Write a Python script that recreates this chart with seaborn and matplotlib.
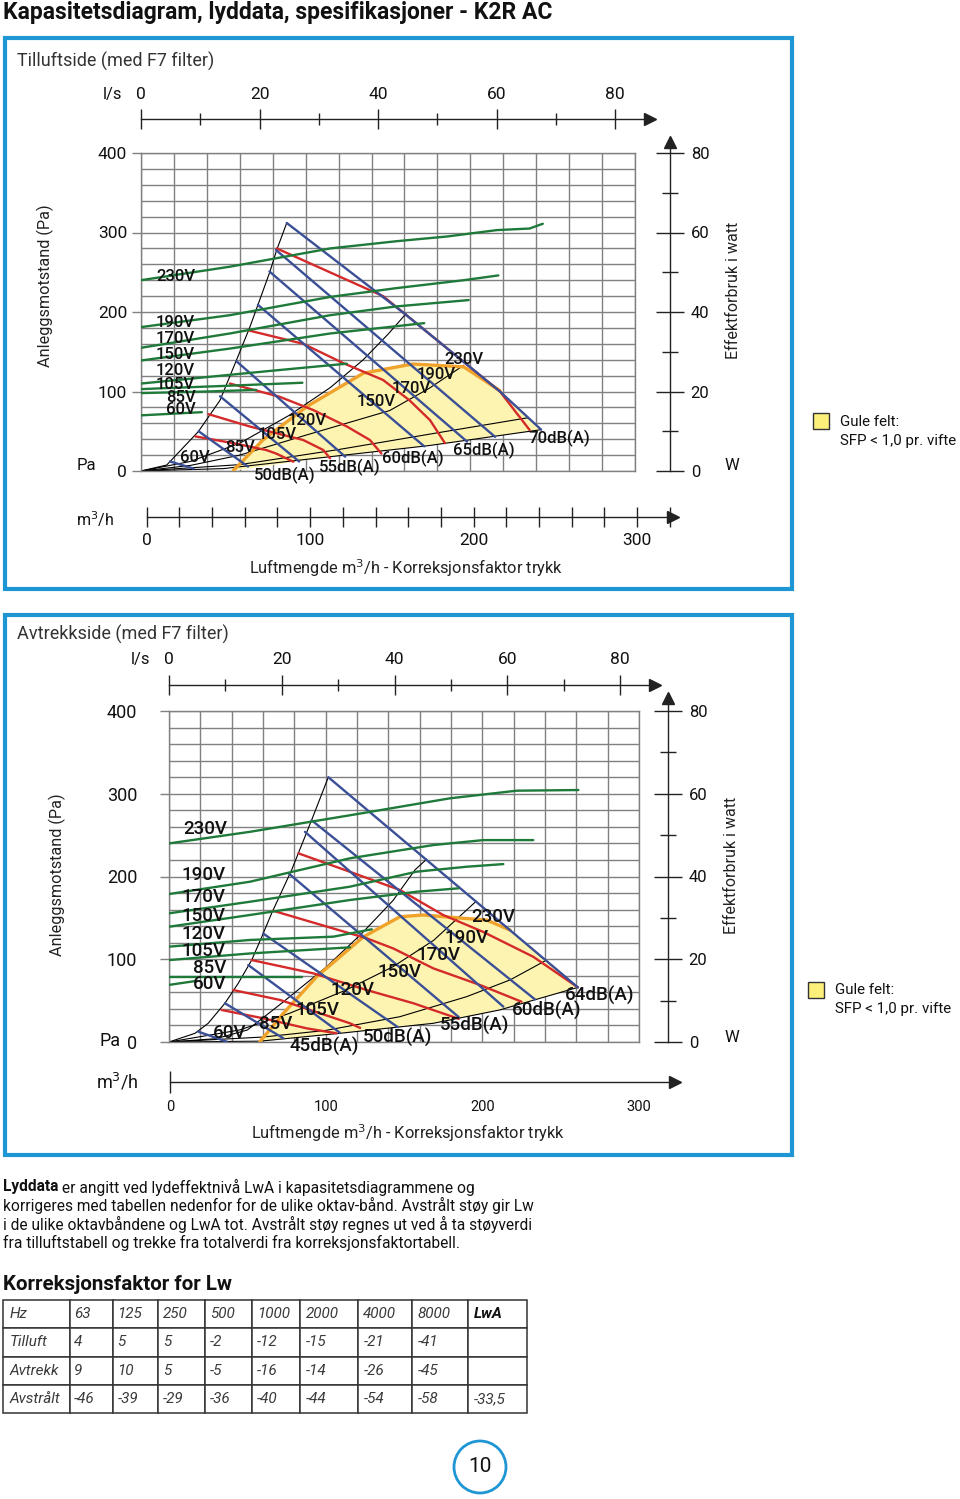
import matplotlib
matplotlib.use("Agg")
import matplotlib.pyplot as plt
from matplotlib.patches import Rectangle, Circle
import pandas as pd
import seaborn as sns

# ------------------------------------------------------------------
# data (airflow m3/h, pressure Pa)
# ------------------------------------------------------------------

# Tilluftside
sup_green = {
    "230V": [(0, 240), (54, 257), (115, 280), (155, 289), (186, 295), (216, 303), (236, 305), (244, 311)],
    "190V": [(0, 181), (54, 196), (115, 219), (155, 230), (196, 240), (217, 246)],
    "170V": [(0, 155), (54, 173), (115, 196), (155, 207), (199, 215)],
    "150V": [(0, 139), (54, 154), (115, 173), (172, 186)],
    "120V": [(0, 110), (54, 121), (84, 127), (125, 135)],
    "105V": [(0, 103), (50, 107), (98, 111)],
    "85V": [(0, 98), (40, 100), (70, 102)],
    "60V": [(0, 70), (37, 74)],
}
sup_blue = {
    "230V": [(88.5, 312), (160, 198), (218, 100), (243, 52)],
    "190V": [(82, 278), (215, 43)],
    "170V": [(78, 251), (198, 37)],
    "150V": [(71, 209), (172, 31)],
    "120V": [(58, 138), (124, 18)],
    "105V": [(48, 94), (96, 12)],
    "85V": [(35, 50), (65, 5.5)],
    "60V": [(17.6, 12), (32, 3)],
}
sup_red = {
    "50dB(A)": [(33, 43.5), (56, 35), (76, 26.4), (82, 22), (92.5, 11.7)],
    "55dB(A)": [(41, 71.5), (66, 56), (98.5, 39), (110.7, 26.4), (114.8, 16)],
    "60dB(A)": [(54, 110), (84, 93.5), (104.6, 76.7), (125, 56), (139, 39), (146, 22)],
    "65dB(A)": [(65, 177), (98.5, 160), (123, 135.5), (147, 114.5), (163, 89), (175.5, 64), (184.6, 35)],
    "70dB(A)": [(82.4, 280), (147, 220), (160, 198), (218, 100), (236, 51.6)],
}
sup_limit_left = [(0, 0), (15.6, 7.5), (34.8, 49.5), (48, 89), (58, 139.6), (66.2, 181.5),
                  (78.3, 250.7), (82.4, 278), (88.5, 312)]
sup_limit_bottom = [(0, 0), (50, 3), (115, 18), (175, 32), (243, 52)]
sup_system = [
    [(0, 0), (30, 12), (60, 35), (90, 70), (115, 105), (135, 140), (150, 172), (161, 198)],
    [(0, 0), (30, 7), (60, 20), (100, 45), (151, 76), (175, 104), (196, 133)],
    [(0, 0), (60, 8), (120, 27), (180, 48), (235, 67)],
]
sup_sfp = [(56, 0.4), (74, 39), (100.6, 81), (135, 123), (165, 134.6), (196, 131), (218, 101)]

# Avtrekkside
exh_green = {
    "230V": [(0, 240), (51.7, 254), (115.5, 274), (179.4, 294.5), (222, 303.7), (261.3, 304.5)],
    "190V": [(0, 178.8), (51.7, 193.7), (115.5, 222), (168.7, 238), (200.6, 244), (232.5, 244)],
    "170V": [(0, 155.5), (51.7, 169.5), (115.5, 187.7), (158, 205.8), (190, 211.8), (213.4, 215)],
    "150V": [(0, 139.3), (51.7, 153.5), (115.5, 171.6), (158, 181.6), (184.7, 185.7)],
    "120V": [(0, 115.2), (51.7, 123.3), (104.9, 127.3), (129.4, 136.2)],
    "105V": [(0, 99), (51.7, 107), (115.5, 114.4)],
    "85V": [(0, 79), (84.7, 79)],
    "60V": [(0, 69), (18, 74)],
}
exh_blue = {
    "230V": [(101.7, 320), (261, 66)],
    "190V": [(91, 268), (233.6, 51.5)],
    "170V": [(86.8, 254), (213.4, 42.7)],
    "150V": [(76.2, 204), (185, 30)],
    "120V": [(60.2, 131), (146, 18)],
    "105V": [(50.6, 93), (109, 11.3)],
    "85V": [(35.7, 46.8), (73, 4.5)],
    "60V": [(18.7, 12.5), (36.8, 0.5)],
}
exh_red = {
    "45dB(A)": [(33.6, 38.7), (60.2, 28.6), (87.9, 16.5), (107, 10.5)],
    "50dB(A)": [(41, 62.8), (70.9, 50.8), (96.4, 34.7), (115.5, 22.6), (122, 17)],
    "55dB(A)": [(52.8, 99), (92, 83), (126.2, 62.8), (156, 46.8), (185, 28)],
    "60dB(A)": [(66.6, 158.5), (126.2, 125.3), (143.2, 113), (168.7, 89), (198.5, 68.9), (225, 48.7)],
    "64dB(A)": [(82.6, 228), (115, 206), (147.4, 183.7), (175, 153.5), (200.6, 133), (232.5, 103), (261, 66)],
}
exh_limit_left = [(0, 0), (16.6, 10.5), (25, 22.6), (35.7, 46.8), (44.2, 71), (52.8, 99), (59.2, 127),
                  (65.5, 155.5), (78.3, 208), (91, 268), (101.7, 320)]
exh_limit_bottom = [(0, 0), (58, 1), (109, 10.5), (168.7, 22.6), (211, 38.7), (261, 66)]
exh_system = [
    [(0, 0), (30, 4), (50, 14.5), (72, 47), (100, 90), (123, 131), (143, 171), (157, 208), (164.5, 221)],
    [(0, 0), (45, 14.5), (77, 34.7), (113, 62.8), (143, 91), (169, 123), (196, 170)],
    [(0, 0), (60, 6), (100, 14), (147.4, 30.6), (190, 54.8), (217.7, 75), (240, 98)],
]
exh_sfp = [(58, 0.4), (73, 34.7), (94.3, 79), (124, 127), (147.4, 151.4), (162.3, 153.5),
           (187.9, 149.5), (202.8, 147.4), (217.7, 135.3)]

# korreksjonsfaktor table
table_head = ["Hz", "63", "125", "250", "500", "1000", "2000", "4000", "8000", "LwA"]
table_tilluft = ["Tilluft", "4", "5", "5", "-2", "-12", "-15", "-21", "-41", ""]
table_avtrekk = ["Avtrekk", "9", "10", "5", "-5", "-16", "-14", "-26", "-45", ""]
table_avstralt = ["Avstrålt", "-46", "-39", "-29", "-36", "-40", "-44", "-54", "-58", "-33,5"]

# label positions (m3/h, Pa)
sup_left_lbl = [(21, 245), (21, 187), (21, 167), (21, 147), (21, 126), (21, 109), (24, 93), (24, 77)]
sup_mid_lbl = [(196, 140), (179, 121), (164, 104), (143, 88), (101, 64), (83, 46.5), (60, 30), (33, 16.4)]
sup_db_lbl = [(87, -5), (127, 5), (165, 16.4), (208, 26.4), (254, 41.5)]
exh_left_lbl = [(23, 257), (22, 202), (22, 175), (22, 152), (22, 130.5), (22, 110), (26, 89), (26, 70)]
exh_mid_lbl = [(207, 151), (190, 125.7), (172, 105), (147, 84.6), (117, 62.8), (95, 38.7), (68, 21.8), (39, 10.9)]
exh_db_lbl = [(99, -6), (146, 6), (195, 20.5), (241, 37.5), (275, 55.6)]

# ------------------------------------------------------------------
sns.set_style("white")
plt.rcParams['font.family'] = ['Roboto', 'DejaVu Sans']

W, H = 960, 1499
GREEN, RED, BLUE = '#1f7a3a', '#d42a2a', '#3a4f96'
ORANGE, YELLOW = '#f0a22a', '#fdf4b1'
FRAME, GRID, AXC = '#1e96d4', '#808080', '#222222'

fig = plt.figure(figsize=(W / 100, H / 100), dpi=100)


def px_axes(x0, y0, x1, y1, z=2):
    return fig.add_axes([x0 / W, 1 - y1 / H, (x1 - x0) / W, (y1 - y0) / H], zorder=z)


def curve(ax, pts, color, lw, z):
    df = pd.DataFrame(pts, columns=['q', 'p'])
    sns.lineplot(data=df, x='q', y='p', sort=False, estimator=None, color=color,
                 lw=lw, ax=ax, zorder=z, legend=False)


def h_axis(x0, x1, y, vmax, major, minor, labels, top, fs, maj_len, min_len, pad, first_only=False):
    ax = px_axes(x0, y - 0.5, x1, y + 0.5, z=3)
    ax.set_xlim(0, vmax)
    ax.set_ylim(0, 1)
    ax.patch.set_alpha(0)
    for s in ['top', 'left', 'right']:
        ax.spines[s].set_visible(False)
    ax.spines['bottom'].set_color(AXC)
    ax.spines['bottom'].set_linewidth(1.0)
    ax.set_yticks([])
    ax.set_xticks(major)
    ax.set_xticklabels(labels)
    ax.set_xticks(minor, minor=True)
    ax.tick_params(axis='x', which='major', direction='inout', length=maj_len, width=1, color=AXC,
                   labelsize=fs, labelcolor='#111', pad=pad, bottom=True, top=False,
                   labelbottom=not top, labeltop=top)
    ax.tick_params(axis='x', which='minor', direction='inout', length=min_len, width=1, color=AXC,
                   bottom=True, top=False)
    if first_only:
        for tk in ax.xaxis.get_major_ticks()[1:]:
            tk.tick1line.set_visible(False)
    ax.plot([1], [0], marker='>', ms=8, color=AXC, transform=ax.transAxes, clip_on=False)
    return ax


def v_axis(x, yb, yt, vmax, fs, pad):
    ax = px_axes(x - 0.5, yt, x + 0.5, yb, z=3)
    ax.set_ylim(0, vmax)
    ax.set_xlim(0, 1)
    ax.patch.set_alpha(0)
    for s in ['top', 'bottom', 'right']:
        ax.spines[s].set_visible(False)
    ax.spines['left'].set_color(AXC)
    ax.spines['left'].set_linewidth(1.0)
    ax.set_xticks([])
    ax.set_yticks([0, 20, 40, 60, 80])
    ax.set_yticks([10, 30, 50, 70], minor=True)
    ax.tick_params(axis='y', which='major', direction='inout', length=20, width=1, color=AXC,
                   left=True, right=False, labelleft=False, labelright=True, labelsize=fs,
                   labelcolor='#111', pad=pad)
    ax.tick_params(axis='y', which='minor', direction='inout', length=11, width=1, color=AXC,
                   left=True, right=False)
    ax.plot([0], [1], marker='^', ms=8, color=AXC, transform=ax.transAxes, clip_on=False)
    return ax


def chart(box, green, blue, red, left, bottom, system, sfp, left_lbl, mid_lbl, db_lbl, lbl_fs, tick_fs, tick_pad):
    ax = px_axes(*box)
    # yellow SFP field
    end_q = blue["230V"][-1][0]
    poly = sfp + [pt for pt in blue["230V"] if pt[0] > sfp[-1][0]] + \
        [pt for pt in reversed(bottom) if sfp[0][0] < pt[0] < end_q]
    ax.fill([p[0] for p in poly], [p[1] for p in poly], color=YELLOW, lw=0, zorder=1)
    for pts in [left, bottom] + system:
        curve(ax, pts, 'black', 0.8, 2)
    curve(ax, sfp, ORANGE, 2.4, 3)
    for pts in red.values():
        curve(ax, pts, RED, 1.7, 4)
    for pts in blue.values():
        curve(ax, pts, BLUE, 1.7, 5)
    for pts in green.values():
        curve(ax, pts, GREEN, 1.7, 6)
    kw = dict(fontsize=lbl_fs, fontweight='medium', ha='center', va='center', zorder=7, color='#111')
    for name, (q, p) in zip(green.keys(), left_lbl):
        ax.text(q, p, name, **kw)
    for name, (q, p) in zip(blue.keys(), mid_lbl):
        ax.text(q, p, name, **kw)
    for name, (q, p) in zip(red.keys(), db_lbl):
        ax.text(q, p, name, **kw)
    ax.set_xlim(0, 300)
    ax.set_ylim(0, 400)
    ax.set_xlabel('')
    ax.set_ylabel('')
    ax.set_xticks(range(0, 301, 20))
    ax.set_xticklabels([])
    ax.set_yticks([0, 100, 200, 300, 400])
    ax.set_yticks(range(0, 401, 20), minor=True)
    ax.tick_params(axis='x', length=0)
    ax.tick_params(axis='y', which='major', direction='out', length=6.5, width=1, color=GRID,
                   left=True, labelsize=tick_fs, labelcolor='#111', pad=tick_pad)
    ax.tick_params(axis='y', which='minor', length=0)
    ax.grid(True, which='both', color=GRID, lw=1.0)
    ax.set_axisbelow(True)
    for s in ax.spines.values():
        s.set_color(GRID)
        s.set_linewidth(1.0)
    ax.set_facecolor('white')
    return ax


# background canvas with frames and texts
cv = fig.add_axes([0, 0, 1, 1], zorder=0)
cv.set_xlim(0, W)
cv.set_ylim(H, 0)
cv.axis('off')

cv.text(3, 19, "Kapasitetsdiagram, lyddata, spesifikasjoner - K2R AC", fontsize=16.5,
        fontweight='bold', ha='left', va='baseline', color='#111')
for y0, y1 in [(38, 589), (615, 1155)]:
    cv.add_patch(Rectangle((5, y0), 787, y1 - y0, fill=False, ec=FRAME, lw=3))
cv.text(17, 61, "Tilluftside (med F7 filter)", fontsize=13, ha='left', va='center', color='#333')
cv.text(17, 634, "Avtrekkside (med F7 filter)", fontsize=13, ha='left', va='center', color='#333')

# ---------------- chart 1: Tilluftside ----------------
chart((141, 153, 635, 471), sup_green, sup_blue, sup_red, sup_limit_left, sup_limit_bottom,
      sup_system, sup_sfp, sup_left_lbl, sup_mid_lbl, sup_db_lbl, 12, 12.5, 3.5)
ls_px = (635 - 141) / 300 * 3.6
h_axis(141, 650, 118, (650 - 141) / ls_px, [0, 20, 40, 60, 80], [10, 30, 50, 70],
       ['0', '20', '40', '60', '80'], True, 12.5, 14, 9, 4.5)
v_axis(670, 471, 142, (471 - 142) / ((471 - 153) / 80), 12, 4.5)
m3_px = (637 - 146.7) / 300
h_axis(146.7, 673, 516, (673 - 146.7) / m3_px, [0, 100, 200, 300], list(range(20, 321, 20)),
       ['0', '100', '200', '300'], False, 12.5, 14, 14, 5)
cv.text(113, 94, "l/s", fontsize=12, ha='center', va='center', color='#111')
cv.text(86, 465, "Pa", fontsize=12, ha='center', va='center', color='#111')
cv.text(45, 286, "Anleggsmotstand (Pa)", fontsize=11.7, rotation=90, ha='center', va='center', color='#222')
cv.text(733, 290, "Effektforbruk i watt", fontsize=11.5, rotation=90, ha='center', va='center', color='#222')
cv.text(732, 465, "W", fontsize=12, ha='center', va='center', color='#111')
cv.text(95, 519, "m$^3$/h", fontsize=11.5, ha='center', va='center', color='#111')
cv.text(406, 568, "Luftmengde m$^3$/h - Korreksjonsfaktor trykk", fontsize=11.8, ha='center', va='center', color='#222')

# ---------------- chart 2: Avtrekkside ----------------
chart((169, 711, 639, 1042), exh_green, exh_blue, exh_red, exh_limit_left, exh_limit_bottom,
      exh_system, exh_sfp, exh_left_lbl, exh_mid_lbl, exh_db_lbl, 13.5, 13, 16.5)
ls_px2 = (639 - 169) / 300 * 3.6
h_axis(169, 655, 684, (655 - 169) / ls_px2, [0, 20, 40, 60, 80], [10, 30, 50, 70],
       ['0', '20', '40', '60', '80'], True, 12.5, 14, 9, 5)
v_axis(668, 1042, 698, (1042 - 698) / ((1042 - 711) / 80), 12, 4.5)
m3_px2 = (639 - 170) / 300
h_axis(170, 675, 1081, (675 - 170) / m3_px2, [0, 100, 200, 300], [],
       ['0', '100', '200', '300'], False, 10.5, 16, 0, 5, first_only=True)
cv.text(140, 659, "l/s", fontsize=12, ha='center', va='center', color='#111')
cv.text(110, 1041, "Pa", fontsize=13, ha='center', va='center', color='#111')
cv.text(57, 875, "Anleggsmotstand (Pa)", fontsize=11.7, rotation=90, ha='center', va='center', color='#222')
cv.text(731, 865, "Effektforbruk i watt", fontsize=11.5, rotation=90, ha='center', va='center', color='#222')
cv.text(732, 1037, "W", fontsize=12, ha='center', va='center', color='#111')
cv.text(117, 1082, "m$^3$/h", fontsize=13, ha='center', va='center', color='#111')
cv.text(408, 1133, "Luftmengde m$^3$/h - Korreksjonsfaktor trykk", fontsize=11.8, ha='center', va='center', color='#222')

# legend "Gule felt"
for (sx, sy), (tx, ty) in [((813, 413), (840, 422)), ((808, 982), (835, 990))]:
    cv.add_patch(Rectangle((sx, sy), 16, 16, fc='#fdf07a', ec='#333', lw=1))
    cv.text(tx, ty, "Gule felt:", fontsize=10.9, ha='left', va='center', color='#111')
    cv.text(tx, ty + 19, "SFP < 1,0 pr. vifte", fontsize=10.9, ha='left', va='center', color='#111')

# paragraph text
para = ["korrigeres med tabellen nedenfor for de ulike oktav-bånd. Avstrålt støy gir Lw",
        "i de ulike oktavbåndene og LwA tot. Avstrålt støy regnes ut ved å ta støyverdi",
        "fra tilluftstabell og trekke fra totalverdi fra korreksjonsfaktortabell."]
t = cv.text(3, 1187, "Lyddata", fontsize=11.2, fontweight='bold', ha='left', va='center', color='#111')
cv.annotate(" er angitt ved lydeffektnivå LwA i kapasitetsdiagrammene og", xycoords=t,
            xy=(1, 0.5), va='center', ha='left', fontsize=11.2, color='#111')
for i, line in enumerate(para):
    cv.text(3, 1205.5 + i * 18.7, line, fontsize=11.2, ha='left', va='center', color='#111')
cv.text(3, 1285, "Korreksjonsfaktor for Lw", fontsize=14.8, fontweight='bold', ha='left', va='center', color='#111')

# table
col_w = [67, 43, 45, 47, 47, 48, 58, 54, 56, 59]
tab = cv.table(cellText=[table_head, table_tilluft, table_avtrekk, table_avstralt],
               colWidths=[c / sum(col_w) for c in col_w], cellLoc='left',
               bbox=[3 / W, 1 - 1413 / H, 524 / W, 113 / H])
tab.auto_set_font_size(False)
for (r, c), cell in tab.get_celld().items():
    cell.set_edgecolor('#333')
    cell.set_linewidth(1.1)
    cell.PAD = 0.1
    txt = cell.get_text()
    txt.set_fontsize(11)
    txt.set_fontstyle('italic')
    txt.set_color('#3a3a3a')
    if r == 0 and c == 9:
        txt.set_fontweight('bold')
        txt.set_color('#111')

# page number
cv.add_patch(Circle((480, 1467), 26, fc='white', ec=FRAME, lw=2))
cv.text(480, 1467, "10", fontsize=15, ha='center', va='center', color='#111')

fig.savefig("out.png", dpi=100)
